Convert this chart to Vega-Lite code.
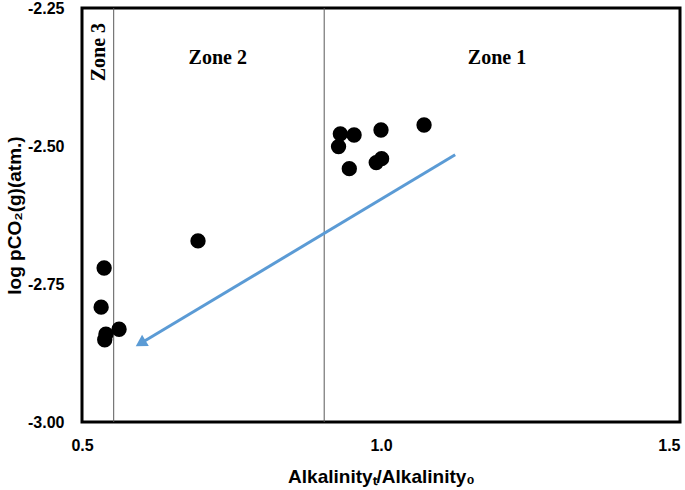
{
  "$schema": "https://vega.github.io/schema/vega-lite/v6.json",
  "width": 598,
  "height": 414,
  "autosize": {"type": "none"},
  "padding": {"left": 82, "top": 8, "right": 5, "bottom": 68},
  "background": "white",
  "config": {
    "view": {"stroke": "black", "strokeWidth": 3},
    "axis": {"grid": false, "ticks": false, "domain": false, "labelFont": "Liberation Sans", "labelFontWeight": "bold", "labelFontSize": 16, "labelColor": "black", "titleFont": "Liberation Sans", "titleFontWeight": "bold", "titleFontSize": 19, "titleColor": "black"},
    "axisX": {"labelPadding": 15, "titlePadding": 14, "labelFlush": false},
    "axisY": {"labelPadding": 18, "titlePadding": 3}
  },
  "datasets": {
    "points": [
      {"x": 0.537, "y": -2.721},
      {"x": 0.532, "y": -2.792},
      {"x": 0.540, "y": -2.841},
      {"x": 0.538, "y": -2.851},
      {"x": 0.562, "y": -2.832},
      {"x": 0.694, "y": -2.672},
      {"x": 0.932, "y": -2.478},
      {"x": 0.929, "y": -2.501},
      {"x": 0.955, "y": -2.480},
      {"x": 0.947, "y": -2.541},
      {"x": 1.0, "y": -2.471},
      {"x": 0.992, "y": -2.530},
      {"x": 1.001, "y": -2.523},
      {"x": 1.072, "y": -2.462}
    ],
    "zones": [{"x": 0.553}, {"x": 0.905}],
    "arrow": [
      {"x": 1.124, "y": -2.516},
      {"x": 0.599, "y": -2.857}
    ],
    "head": [{"x": 0.598, "y": -2.8575}],
    "labels": [
      {"x": 0.727, "y": -2.3406, "label": "Zone 2"},
      {"x": 1.194, "y": -2.3406, "label": "Zone 1"}
    ],
    "vlabels": [{"x": 0.529, "y": -2.330, "label": "Zone 3"}]
  },
  "layer": [
    {
      "data": {"name": "zones"},
      "mark": {"type": "rule", "color": "#595959", "strokeWidth": 1},
      "encoding": {
        "x": {"field": "x", "type": "quantitative", "scale": {"domain": [0.5, 1.5], "nice": false},
          "axis": {"title": "Alkalinityₜ/Alkalinity₀", "values": [0.5, 1.0, 1.5], "format": ".1f", "labelFontWeight": "bold", "labelAlign": {"condition": {"test": "datum.value >= 1.5", "value": "right"}, "value": "center"}}}
      }
    },
    {
      "data": {"name": "points"},
      "mark": {"type": "circle", "size": 235, "color": "black", "opacity": 1},
      "encoding": {
        "x": {"field": "x", "type": "quantitative", "scale": {"domain": [0.5, 1.5], "nice": false},
          "axis": {"title": "Alkalinityₜ/Alkalinity₀", "values": [0.5, 1.0, 1.5], "format": ".1f", "labelFontWeight": "bold", "labelAlign": {"condition": {"test": "datum.value >= 1.5", "value": "right"}, "value": "center"}}},
        "y": {"field": "y", "type": "quantitative", "scale": {"domain": [-3.0, -2.25], "nice": false, "zero": false},
          "axis": {"title": "log pCO₂(g)(atm.)", "values": [-3.0, -2.75, -2.5, -2.25], "labelFontWeight": "bold", "labelExpr": "replace(format(datum.value, '.2f'), '−', '-')"}}
      }
    },
    {
      "data": {"name": "arrow"},
      "mark": {"type": "line", "color": "#5B9BD5", "strokeWidth": 3},
      "encoding": {
        "x": {"field": "x", "type": "quantitative", "axis": {"title": "Alkalinityₜ/Alkalinity₀", "values": [0.5, 1.0, 1.5], "format": ".1f", "labelFontWeight": "bold", "labelAlign": {"condition": {"test": "datum.value >= 1.5", "value": "right"}, "value": "center"}}},
        "y": {"field": "y", "type": "quantitative", "axis": {"title": "log pCO₂(g)(atm.)", "values": [-3.0, -2.75, -2.5, -2.25], "labelFontWeight": "bold", "labelExpr": "replace(format(datum.value, '.2f'), '−', '-')"}}
      }
    },
    {
      "data": {"name": "head"},
      "mark": {"type": "point", "shape": "triangle-up", "angle": 239, "size": 170, "filled": true, "color": "#5B9BD5", "opacity": 1},
      "encoding": {
        "x": {"field": "x", "type": "quantitative", "axis": {"title": "Alkalinityₜ/Alkalinity₀", "values": [0.5, 1.0, 1.5], "format": ".1f", "labelFontWeight": "bold", "labelAlign": {"condition": {"test": "datum.value >= 1.5", "value": "right"}, "value": "center"}}},
        "y": {"field": "y", "type": "quantitative", "axis": {"title": "log pCO₂(g)(atm.)", "values": [-3.0, -2.75, -2.5, -2.25], "labelFontWeight": "bold", "labelExpr": "replace(format(datum.value, '.2f'), '−', '-')"}}
      }
    },
    {
      "data": {"name": "labels"},
      "mark": {"type": "text", "font": "Liberation Serif", "fontWeight": "bold", "fontSize": 20, "color": "black", "baseline": "middle", "align": "center"},
      "encoding": {
        "x": {"field": "x", "type": "quantitative", "axis": {"title": "Alkalinityₜ/Alkalinity₀", "values": [0.5, 1.0, 1.5], "format": ".1f", "labelFontWeight": "bold", "labelAlign": {"condition": {"test": "datum.value >= 1.5", "value": "right"}, "value": "center"}}},
        "y": {"field": "y", "type": "quantitative", "axis": {"title": "log pCO₂(g)(atm.)", "values": [-3.0, -2.75, -2.5, -2.25], "labelFontWeight": "bold", "labelExpr": "replace(format(datum.value, '.2f'), '−', '-')"}},
        "text": {"field": "label"}
      }
    },
    {
      "data": {"name": "vlabels"},
      "mark": {"type": "text", "font": "Liberation Serif", "fontWeight": "bold", "fontSize": 20, "color": "black", "baseline": "middle", "align": "center", "angle": 270},
      "encoding": {
        "x": {"field": "x", "type": "quantitative", "axis": {"title": "Alkalinityₜ/Alkalinity₀", "values": [0.5, 1.0, 1.5], "format": ".1f", "labelFontWeight": "bold", "labelAlign": {"condition": {"test": "datum.value >= 1.5", "value": "right"}, "value": "center"}}},
        "y": {"field": "y", "type": "quantitative", "axis": {"title": "log pCO₂(g)(atm.)", "values": [-3.0, -2.75, -2.5, -2.25], "labelFontWeight": "bold", "labelExpr": "replace(format(datum.value, '.2f'), '−', '-')"}},
        "text": {"field": "label"}
      }
    }
  ]
}
